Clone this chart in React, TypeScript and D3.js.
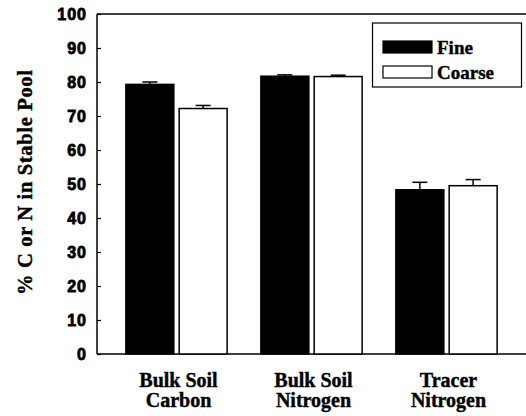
import React, { useRef, useEffect } from "react";
import * as d3 from "d3";

const categories = [["Bulk Soil", "Carbon"], ["Bulk Soil", "Nitrogen"], ["Tracer", "Nitrogen"]];
const seriesNames = ["Fine", "Coarse"];
const fineValues = [79.3, 81.7, 48.3];
const fineErrors = [0.7, 0.4, 2.2];
const coarseValues = [72.2, 81.6, 49.5];
const coarseErrors = [0.9, 0.4, 1.8];
const yTicks = [0, 10, 20, 30, 40, 50, 60, 70, 80, 90, 100];

const W = 526;
const H = 416;
const serif = "'Liberation Serif', 'Times New Roman', serif";

const App: React.FC = () => {
  const svgRef = useRef<SVGSVGElement>(null);

  useEffect(() => {
    if (!svgRef.current) return;
    const svg = d3.select(svgRef.current);
    svg.selectAll("*").remove();

    const left = 97;
    const top = 14;
    const bottom = 354;

    const keys = categories.map((c) => c.join(" "));
    const x = d3.scaleBand().domain(keys).range([109, 514]).paddingInner(0.25).paddingOuter(0.125);
    const xInner = d3.scaleBand().domain(seriesNames).range([0, x.bandwidth()]).paddingInner(0.1);
    const y = d3.scaleLinear().domain([0, 100]).range([bottom, top]);

    const rows = keys.map((k, i) => ({
      key: k,
      bars: [
        { name: "Fine", value: fineValues[i], err: fineErrors[i] },
        { name: "Coarse", value: coarseValues[i], err: coarseErrors[i] },
      ],
    }));

    // frame: top and bottom lines run off the right edge
    svg.append("line").attr("x1", left).attr("x2", W + 2).attr("y1", top).attr("y2", top)
      .attr("stroke", "#000").attr("stroke-width", 1.5);
    svg.append("line").attr("x1", left).attr("x2", W + 2).attr("y1", bottom).attr("y2", bottom)
      .attr("stroke", "#000").attr("stroke-width", 1.5);

    const g = svg.append("g").selectAll("g").data(rows).join("g")
      .attr("transform", (d) => `translate(${x(d.key)},0)`);

    g.selectAll("rect").data((d) => d.bars).join("rect")
      .attr("x", (d) => xInner(d.name)!)
      .attr("width", xInner.bandwidth())
      .attr("y", (d) => y(d.value))
      .attr("height", (d) => y(0) - y(d.value))
      .attr("fill", (d) => (d.name === "Fine" ? "#000" : "#fff"))
      .attr("stroke", "#000")
      .attr("stroke-width", 1.5);

    // upper error bars
    const eb = g.selectAll("g.err").data((d) => d.bars).join("g").attr("class", "err");
    eb.append("line")
      .attr("x1", (d) => xInner(d.name)! + xInner.bandwidth() / 2)
      .attr("x2", (d) => xInner(d.name)! + xInner.bandwidth() / 2)
      .attr("y1", (d) => y(d.value))
      .attr("y2", (d) => y(d.value + d.err))
      .attr("stroke", "#000").attr("stroke-width", 1.5);
    eb.append("line")
      .attr("x1", (d) => xInner(d.name)! + xInner.bandwidth() / 2 - 7.5)
      .attr("x2", (d) => xInner(d.name)! + xInner.bandwidth() / 2 + 7.5)
      .attr("y1", (d) => y(d.value + d.err))
      .attr("y2", (d) => y(d.value + d.err))
      .attr("stroke", "#000").attr("stroke-width", 1.5);

    // y axis
    const yAxis = svg.append("g")
      .attr("transform", `translate(${left},0)`)
      .call(d3.axisLeft(y).tickValues(yTicks).tickSize(-4).tickPadding(10));
    yAxis.select(".domain").attr("stroke-width", 1.5).attr("d", `M0,${top}V${bottom}`);
    yAxis.selectAll(".tick line").attr("stroke-width", 1.2);
    yAxis.selectAll("text")
      .attr("font-family", "'Liberation Sans', Arial, sans-serif")
      .attr("font-weight", "bold")
      .attr("font-size", 16)
      .attr("letter-spacing", 1)
      .attr("stroke", "#000")
      .attr("stroke-width", 0.8)
      .attr("fill", "#000");

    // category labels
    const lab = svg.append("g").selectAll("text").data(categories).join("text")
      .attr("x", (d) => x(d.join(" "))! + x.bandwidth() / 2 + 2)
      .attr("y", 387)
      .attr("text-anchor", "middle")
      .attr("font-family", serif)
      .attr("font-weight", "bold")
      .attr("font-size", 20)
      .attr("stroke", "#000")
      .attr("stroke-width", 0.4)
      .attr("fill", "#000");
    lab.selectAll("tspan").data((d) => d).join("tspan")
      .attr("x", function () { return (this.parentNode as SVGTextElement).getAttribute("x"); })
      .attr("dy", (_d, i) => (i === 0 ? 0 : 20))
      .text((d) => d);

    // y title
    svg.append("text")
      .attr("transform", `translate(32,182.5) rotate(-90)`)
      .attr("text-anchor", "middle")
      .attr("font-family", serif)
      .attr("font-weight", "bold")
      .attr("font-size", 20.5)
      .attr("textLength", 225)
      .attr("lengthAdjust", "spacing")
      .attr("stroke", "#000")
      .attr("stroke-width", 0.4)
      .attr("fill", "#000")
      .text("% C or N in Stable Pool");

    // legend
    const lg = svg.append("g");
    lg.append("rect").attr("x", 372.5).attr("y", 23).attr("width", 149).attr("height", 64)
      .attr("fill", "#fff").attr("stroke", "#000").attr("stroke-width", 1.2);
    const items = lg.selectAll("g.item").data(seriesNames).join("g").attr("class", "item")
      .attr("transform", (_d, i) => `translate(0,${41 + i * 25})`);
    items.append("rect").attr("x", 383).attr("y", 0).attr("width", 49).attr("height", 12)
      .attr("fill", (d) => (d === "Fine" ? "#000" : "#fff"))
      .attr("stroke", "#000").attr("stroke-width", 1.2);
    items.append("text").attr("x", 437).attr("y", 12.5)
      .attr("font-family", serif)
      .attr("font-weight", "bold")
      .attr("font-size", 19)
      .attr("stroke", "#000")
      .attr("stroke-width", 0.4)
      .attr("fill", "#000")
      .text((d) => d);

    return () => {
      svg.selectAll("*").remove();
    };
  }, []);

  return (
    <div style={{ position: "absolute", left: 0, top: 0 }}>
      <svg ref={svgRef} width={W} height={H} style={{ display: "block", background: "#fff" }} />
    </div>
  );
};

export default App;
